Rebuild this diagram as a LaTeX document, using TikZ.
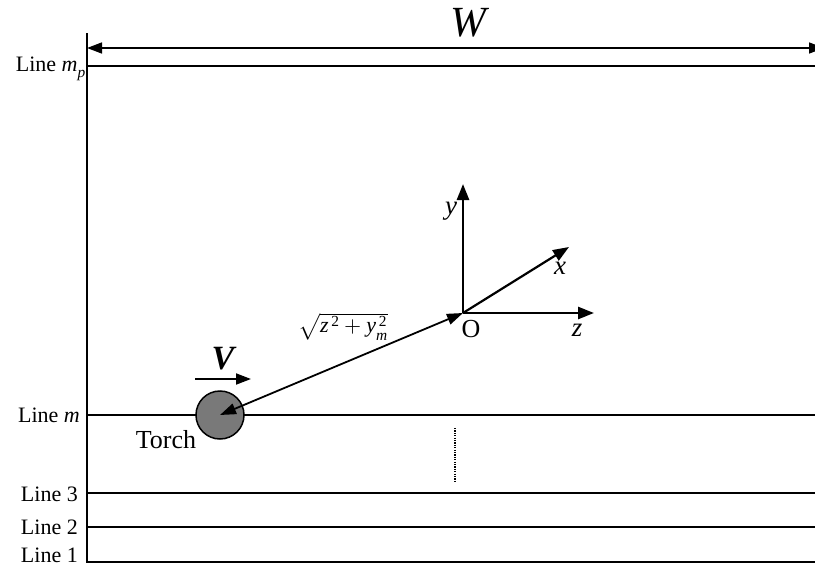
\documentclass[tikz,border=0pt]{standalone}
\usepackage{fontspec}
\setmainfont{Liberation Serif}
\usepackage{unicode-math}
\setmathfont{Latin Modern Math}
\usetikzlibrary{arrows.meta}
\tikzset{
  lbl/.style={anchor=east,inner sep=0pt,font=\fontsize{22}{24}\selectfont},
  thickline/.style={line width=2.6pt},
  tip/.style={-{Triangle[length=15pt,width=11pt]}},
  axis/.style={line width=2.6pt,-{Triangle[length=16pt,width=12pt]}},
}
\begin{document}
\begin{tikzpicture}[x=1pt,y=-1pt]
\useasboundingbox (0,0) rectangle (815,565);
% frame lines
\coordinate (tl) at (87,33);
\coordinate (bl) at (87,563);
\draw[thickline] (tl) -- (bl);
\foreach \n/\yy in {mp/66, m/415, 3/493, 2/527, 1/562}{
  \coordinate (L\n a) at (87,\yy);
  \coordinate (L\n b) at (816,\yy);
  \draw[thickline] (L\n a) -- (L\n b);
}
% labels
\node[lbl] (lmp) at (86,69) {Line \textit{m}\textsubscript{\textit{p}}};
\node[lbl] (lm) at (80,415) {Line \textit{m}};
\node[lbl] (l3) at (78,494) {Line 3};
\node[lbl] (l2) at (78,527) {Line 2};
\node[lbl] (l1) at (78,555) {Line 1};
% W arrow
\coordinate (Wa) at (87,48);
\coordinate (Wb) at (824,48);
\draw[line width=1.5pt,{Triangle[length=15pt,width=11pt]}-{Triangle[length=15pt,width=11pt]}] (Wa) -- (Wb);
\node[font=\fontsize{43}{45}\selectfont\itshape,inner sep=0pt] (W) at (468,23) {W};
% axes
\coordinate (O) at (463,313);
\coordinate (ytip) at (463,184);
\coordinate (xtip) at (569,247);
\coordinate (ztip) at (594,313);
\draw[axis] (O) -- (ytip);
\draw[axis,line width=2.2pt] (O) -- (xtip);
\draw[axis] (O) -- (ztip);
\node[font=\fontsize{27}{29}\selectfont\itshape,inner sep=0pt] (ylab) at (451,211) {y};
\node[font=\fontsize{27}{29}\selectfont\itshape,inner sep=0pt] (xlab) at (560,268) {x};
\node[font=\fontsize{27}{29}\selectfont\itshape,inner sep=0pt] (zlab) at (577,330) {z};
\node[font=\fontsize{26}{28}\selectfont,inner sep=0pt] (Olab) at (471,329) {O};
% torch
\node[circle,draw,line width=1.5pt,fill=gray!95!black,minimum size=48pt,inner sep=0pt] (torch) at (220,415) {};
\node[font=\fontsize{26}{28}\selectfont,inner sep=0pt] (torchlab) at (166,440) {Torch};
\draw[line width=1.8pt,{Triangle[length=16pt,width=11pt]}-{Triangle[length=16pt,width=11pt]}] (torch.center) -- (O);
\node[inner sep=0pt,font=\fontsize{22}{24}\selectfont] (sq) at (343,327) {$\sqrt{\textit{z}^{\,\text{2}}+\textit{y}^{\,\text{2}}_{\textit{m}}}$};
% velocity
\coordinate (Va) at (195,379);
\coordinate (Vb) at (251,379);
\draw[line width=1.8pt,tip] (Va) -- (Vb);
\node[font=\fontsize{34}{36}\selectfont\bfseries\itshape,inner sep=0pt] (V) at (223,359) {V};
% dotted
\coordinate (da) at (455,428);
\coordinate (db) at (455,483);
\draw[line width=2.2pt,dash pattern=on 1.2pt off 1.2pt] (da) -- (db);
\end{tikzpicture}
\end{document}
